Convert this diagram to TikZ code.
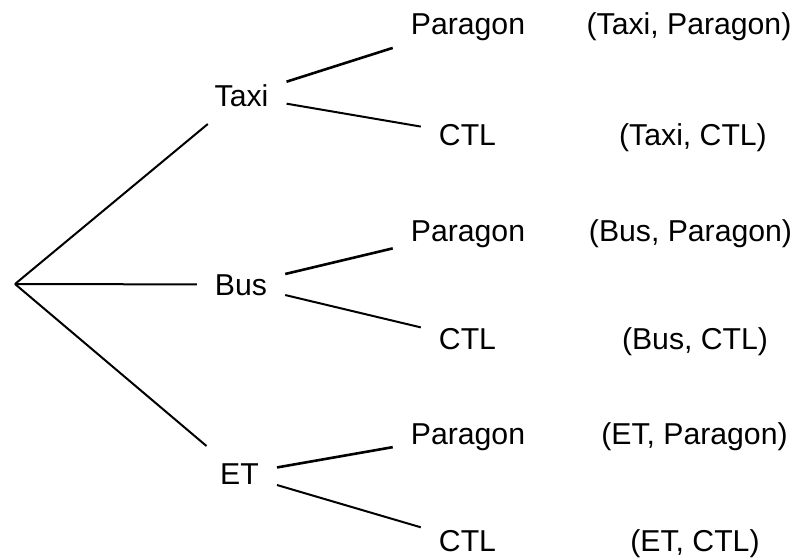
\documentclass[tikz,border=0pt]{standalone}
\usepackage{fontspec}
\setmainfont{Liberation Sans}
\tikzset{
  lbl/.style={inner xsep=18pt, inner ysep=17pt, text height=21.6pt, text depth=0pt,
              font=\fontsize{30.2}{36}\selectfont},
  res/.style={inner sep=0pt, text height=21.6pt, text depth=0pt,
              font=\fontsize{30.2}{36}\selectfont},
  edge/.style={line width=2pt, black},
  up/.style={line width=2.6pt, black}
}
\begin{document}
\begin{tikzpicture}[x=1pt,y=-1pt]
\useasboundingbox (0,0) rectangle (802,558);
\coordinate (root) at (15,284);
\node[lbl] (taxi) at (241.5,96) {Taxi};
\node[lbl] (bus) at (241,284.5) {Bus};
\node[lbl] (et) at (239.5,474) {ET};
\node[lbl] (p1) at (468,24) {Paragon};
\node[lbl] (c1) at (467.5,134.5) {CTL};
\node[lbl] (p2) at (468,230.5) {Paragon};
\node[lbl] (c2) at (467.5,338.5) {CTL};
\node[lbl] (p3) at (468,434) {Paragon};
\node[lbl] (c3) at (467.5,541) {CTL};
\node[res] (r1) at (689,24) {(Taxi, Paragon)};
\node[res] (r2) at (693,134.5) {(Taxi, CTL)};
\node[res] (r3) at (690.5,230.5) {(Bus, Paragon)};
\node[res] (r4) at (695,338.5) {(Bus, CTL)};
\node[res] (r5) at (694.5,434) {(ET, Paragon)};
\node[res] (r6) at (695,541) {(ET, CTL)};
\draw[edge] (root) -- (taxi);
\draw[edge] (root) -- (bus);
\draw[edge] (root) -- (et);
\draw[up] (taxi) -- (p1);
\draw[edge] (taxi) -- (c1);
\draw[up] (bus) -- (p2);
\draw[edge] (bus) -- (c2);
\draw[up] (et) -- (p3);
\draw[edge] (et) -- (c3);
\end{tikzpicture}
\end{document}
